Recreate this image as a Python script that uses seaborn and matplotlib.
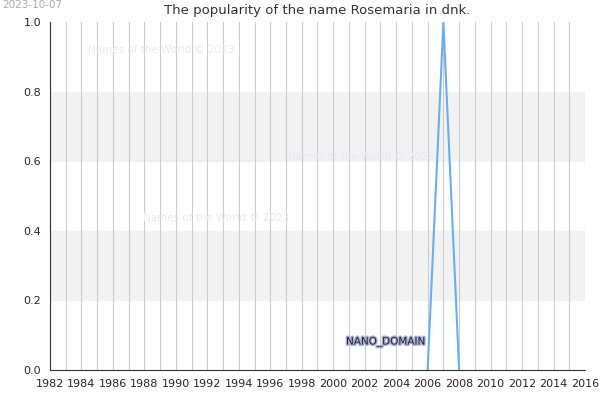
import matplotlib
matplotlib.use("Agg")
import matplotlib.pyplot as plt
import matplotlib.patheffects as pe
import seaborn as sns
import pandas as pd

years = [2006, 2007, 2008]
values = [0.0, 1.0, 0.0]
xticks = list(range(1982, 2017, 2))
yticks = [0.0, 0.2, 0.4, 0.6, 0.8, 1.0]

sns.set_style("white")
plt.rcParams['font.family'] = ['DejaVu Sans']
fig = plt.figure(figsize=(6, 4), dpi=100)
ax = fig.add_axes([50/600, 30/400, 535/600, 348/400])
for lo, hi in [(0.2, 0.4), (0.6, 0.8)]:
    ax.axhspan(lo, hi, color="#f2f2f2", zorder=0)
for yr in range(1982, 2017):
    ax.axvline(yr, color="#cccccc", lw=0.8, zorder=1)
df = pd.DataFrame({"year": years, "value": values})
sns.lineplot(data=df, x="year", y="value", ax=ax, color="#6aaeef", lw=1.5, zorder=3)
ax.set_xlim(1982, 2016)
ax.set_ylim(0, 1)
ax.set_xticks(xticks)
ax.set_yticks(yticks)
ax.set_yticklabels([f"{v:.1f}" for v in yticks])
ax.tick_params(labelsize=8, length=3)
ax.set_xlabel("")
ax.set_ylabel("")
for s in ["top", "right"]:
    ax.spines[s].set_visible(False)
ax.spines["left"].set_color("#333333")
ax.spines["bottom"].set_color("#333333")
ax.set_title("The popularity of the name Rosemaria in dnk.", fontsize=9.5, pad=6, color="#333333")
fig.text(2/600, 1 - 5/400, "2023-10-07", fontsize=7.5, color="#aaaaaa", va="center")
for (x, y) in [(88, 50), (288, 157), (143, 218)]:
    fig.text(x/600, 1 - y/400, "Names of the World © 2023", fontsize=7.5, color="#e8e8f8", va="center")
fig.text(346/600, 1 - 342/400, "NANO_DOMAIN", fontsize=7.5, color="#222244", va="center",
         path_effects=[pe.withStroke(linewidth=2, foreground="#aab0cc")])
fig.savefig("out.png", dpi=100)
